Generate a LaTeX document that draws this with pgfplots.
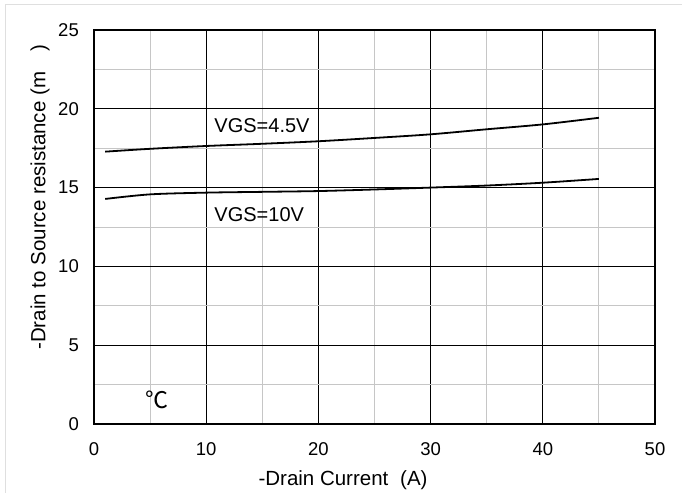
\documentclass[border=0pt]{standalone}
\usepackage{fontspec}
\setmainfont{Liberation Sans}
\newfontfamily\cjk{Noto Sans CJK SC}
\usepackage{pgfplots}
\pgfplotsset{compat=1.18}
\begin{document}
\begin{tikzpicture}[x=1bp,y=1bp]
\path[use as bounding box] (0,0) rectangle (682,493);
\draw[gray!25, line width=1.2bp] (5.5,0) -- (5.5,488.5) -- (682,488.5);
\begin{axis}[
  at={(94bp,69bp)}, anchor=south west,
  scale only axis, width=561bp, height=394bp,
  xmin=0, xmax=50, ymin=0, ymax=25,
  xtick={0,10,...,50}, ytick={0,5,...,25},
  minor x tick num=1, minor y tick num=1,
  grid=both,
  major grid style={black, line width=0.9bp},
  minor grid style={gray!45, line width=0.9bp},
  axis line style={line width=2bp},
  major tick length=0pt, minor tick length=0pt,
  /pgf/number format/assume math mode=true,
  tick label style={font=\fontsize{18.5bp}{22bp}\selectfont, inner sep=0pt},
  xticklabel style={anchor=north, yshift=-18bp},
  yticklabel style={anchor=east, xshift=-15bp},
  xlabel={-Drain Current\hspace{0.3em} (A)},
  ylabel={-Drain to Source resistance (m\hspace{1em})},
  label style={font=\fontsize{20.5bp}{24bp}\selectfont},
  xlabel style={at={(axis description cs:0.444,-0.155)}, anchor=base, inner sep=0pt},
  ylabel style={at={(axis description cs:-0.096,0.576)}, anchor=center, inner sep=0pt},
  clip=false,
]
\addplot[black, line width=1.8bp, smooth] coordinates {
  (1,17.28) (5,17.46) (10,17.64) (15,17.78) (20,17.94) (25,18.15) (30,18.38) (35,18.7) (40,19.01) (45,19.43)
};
\addplot[black, line width=1.8bp, smooth] coordinates {
  (1,14.28) (5,14.57) (10,14.68) (15,14.73) (20,14.78) (25,14.88) (30,15.0) (35,15.13) (40,15.31) (45,15.55)
};
\node[anchor=base west, inner sep=0pt, font=\fontsize{20bp}{24bp}\selectfont] at (axis cs:10.72,18.48) {VGS=4.5V};
\node[anchor=base west, inner sep=0pt, font=\fontsize{20bp}{24bp}\selectfont] at (axis cs:10.72,12.83) {VGS=10V};
\node[anchor=center, inner sep=0pt, font=\cjk\fontsize{23bp}{26bp}\selectfont] at (axis cs:5.59,1.55) {℃};
\end{axis}
\end{tikzpicture}
\end{document}
